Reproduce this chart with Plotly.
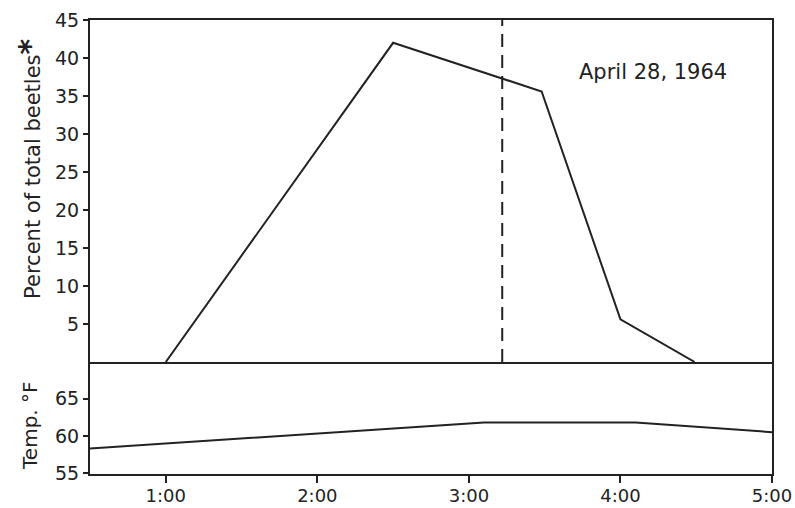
import plotly.graph_objects as go
from plotly.subplots import make_subplots

# Time in decimal hours (p.m.)
beetle_time = [1.0, 2.5, 3.48, 4.0, 4.49]
beetle_pct = [0.0, 42.0, 35.6, 5.6, 0.0]

temp_time = [0.5, 3.1, 4.1, 5.0]
temp_f = [58.3, 61.8, 61.8, 60.5]

marker_time = 3.22  # dashed vertical line

x_ticks = [1, 2, 3, 4, 5]
x_labels = ["1:00", "2:00", "3:00", "4:00", "5:00"]
pct_ticks = [5, 10, 15, 20, 25, 30, 35, 40, 45]
temp_ticks = [55, 60, 65]

INK = "#222222"
FONT = "DejaVu Sans"

fig = make_subplots(rows=2, cols=1, shared_xaxes=True, vertical_spacing=0,
                    row_heights=[0.7533, 0.2467])

fig.add_trace(go.Scatter(x=beetle_time, y=beetle_pct, mode="lines",
                         line=dict(color=INK, width=2), showlegend=False),
              row=1, col=1)
fig.add_trace(go.Scatter(x=[marker_time, marker_time], y=[0, 45], mode="lines",
                         line=dict(color=INK, width=2, dash="13px,8px"),
                         showlegend=False), row=1, col=1)
fig.add_trace(go.Scatter(x=temp_time, y=temp_f, mode="lines",
                         line=dict(color=INK, width=2), showlegend=False),
              row=2, col=1)

base = dict(showline=True, linecolor=INK, linewidth=2,
            showgrid=False, zeroline=False, automargin=False)

fig.update_xaxes(range=[0.5, 5.0], tickvals=x_ticks, ticktext=x_labels, **base)
fig.update_xaxes(ticks="", showticklabels=False, mirror=True, row=1, col=1)
fig.update_xaxes(ticks="outside", ticklen=7, tickwidth=2, tickcolor=INK, mirror=False,
                 ticklabelstandoff=-3,
                 tickfont=dict(family=FONT, size=18, color=INK), row=2, col=1)

fig.update_yaxes(range=[0, 45], tickvals=pct_ticks, ticks="outside", ticklen=5,
                 tickwidth=2, tickcolor=INK, mirror=True,
                 tickfont=dict(family=FONT, size=19, color=INK),
                 row=1, col=1, **base)
fig.update_yaxes(range=[54.9, 69.9], tickvals=temp_ticks, ticks="outside", ticklen=5,
                 tickwidth=2, tickcolor=INK, mirror=True,
                 tickfont=dict(family=FONT, size=19, color=INK),
                 row=2, col=1, **base)

fig.add_annotation(xref="paper", yref="paper", x=-0.088, y=0.672,
                   text="Percent of total beetles<span style='font-size:30px'><b>*</b></span>",
                   textangle=-90, showarrow=False, xanchor="center", yanchor="middle",
                   font=dict(family=FONT, size=21, color=INK))
fig.add_annotation(xref="paper", yref="paper", x=-0.088, y=0.108,
                   text="Temp. °F", textangle=-90, showarrow=False,
                   xanchor="center", yanchor="middle",
                   font=dict(family=FONT, size=20, color=INK))
fig.add_annotation(xref="paper", yref="paper", x=0.714, y=0.885,
                   text="April 28, 1964", showarrow=False,
                   xanchor="left", yanchor="middle",
                   font=dict(family=FONT, size=21, color=INK))

fig.update_layout(width=795, height=508, margin=dict(l=90, r=23, t=20, b=34),
                  plot_bgcolor="white", paper_bgcolor="white")

fig.write_html("out.html")
